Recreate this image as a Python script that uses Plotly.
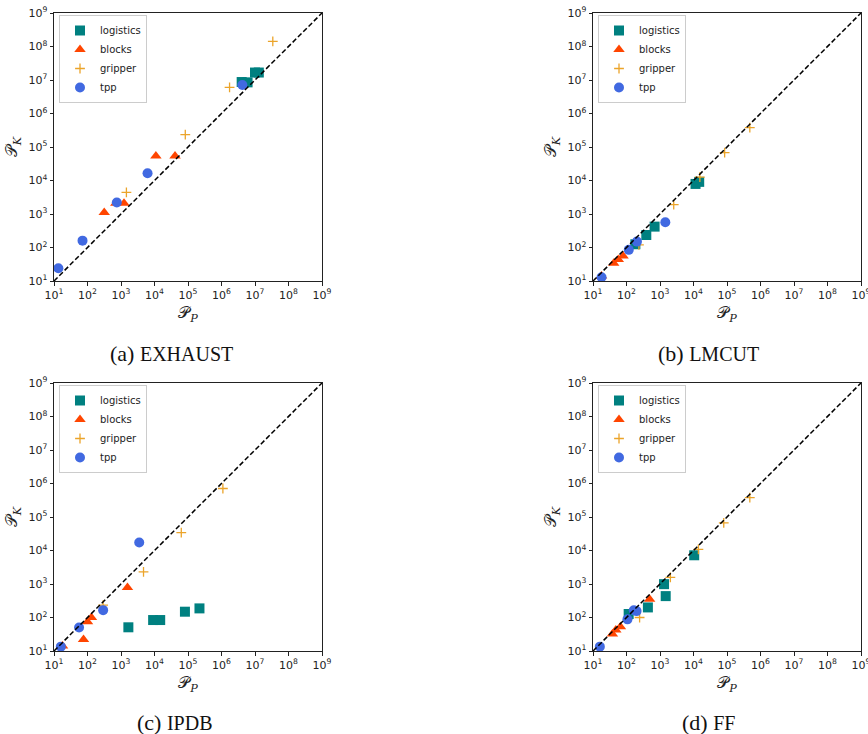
import plotly.graph_objects as go

# ---------------- data ----------------
series_names = ["logistics", "blocks", "gripper", "tpp"]
series_colors = ["#008080", "#FF4500", "#EBA42A", "#4169E1"]
series_symbols = ["square", "triangle-up", "cross-thin", "circle"]

tick_vals = [1e1, 1e2, 1e3, 1e4, 1e5, 1e6, 1e7, 1e8, 1e9]
tick_text = ["10<sup>1</sup>", "10<sup>2</sup>", "10<sup>3</sup>", "10<sup>4</sup>",
             "10<sup>5</sup>", "10<sup>6</sup>", "10<sup>7</sup>", "10<sup>8</sup>",
             "10<sup>9</sup>"]
diag = [1e1, 1e9]

captions = ["(a) ", "(b) ", "(c) ", "(d) "]
caption_names = ["EXHAUST", "LMCUT", "IPDB", "FF"]

# (a) EXHAUST
a_logistics_x = [4.0e6, 6.0e6, 1.0e7, 1.3e7]
a_logistics_y = [8.7e6, 8.5e6, 1.67e7, 1.67e7]
a_blocks_x = [316, 700, 1230, 11000, 41000]
a_blocks_y = [1100, 2100, 2100, 54000, 54000]
a_gripper_x = [1450, 83000, 1.74e6, 3.4e7]
a_gripper_y = [4400, 235000, 6.0e6, 1.42e8]
a_tpp_x = [13.5, 71, 750, 6200, 4.2e6]
a_tpp_y = [24, 160, 2200, 16500, 7.1e6]

# (b) LMCUT
b_logistics_x = [184, 390, 690, 11500, 14800]
b_logistics_y = [125, 236, 420, 7900, 9100]
b_blocks_x = [18, 41.5, 57, 79]
b_blocks_y = [14, 34, 44, 56]
b_gripper_x = [235, 2570, 15500, 85000, 480000]
b_gripper_y = [120, 1900, 12600, 68000, 380000]
b_tpp_x = [18, 117, 205, 1440]
b_tpp_y = [13, 85, 150, 570]

# (c) IPDB
c_logistics_x = [1660, 9100, 14800, 81000, 220000]
c_logistics_y = [51, 84, 84, 149, 187]
c_blocks_x = [18, 76, 100, 131, 1560]
c_blocks_y = [14, 22, 75, 100, 790]
c_gripper_x = [293, 4700, 63000, 1.1e6]
c_gripper_y = [235, 2300, 34000, 710000]
c_tpp_x = [16, 56, 293, 3500]
c_tpp_y = [13.5, 50, 166, 17400]

# (d) FF
d_logistics_x = [116, 435, 1320, 1480, 10500]
d_logistics_y = [127, 200, 990, 435, 7200]
d_blocks_x = [38, 48, 66, 490]
d_blocks_y = [32, 42, 53, 350]
d_gripper_x = [246, 2040, 14000, 80000, 480000]
d_gripper_y = [100, 1570, 10800, 67000, 380000]
d_tpp_x = [16, 107, 165, 200]
d_tpp_y = [13.5, 88, 165, 155]

panel_data = [
    [(a_logistics_x, a_logistics_y), (a_blocks_x, a_blocks_y), (a_gripper_x, a_gripper_y), (a_tpp_x, a_tpp_y)],
    [(b_logistics_x, b_logistics_y), (b_blocks_x, b_blocks_y), (b_gripper_x, b_gripper_y), (b_tpp_x, b_tpp_y)],
    [(c_logistics_x, c_logistics_y), (c_blocks_x, c_blocks_y), (c_gripper_x, c_gripper_y), (c_tpp_x, c_tpp_y)],
    [(d_logistics_x, d_logistics_y), (d_blocks_x, d_blocks_y), (d_gripper_x, d_gripper_y), (d_tpp_x, d_tpp_y)],
]

# ---------------- layout geometry (pixels) ----------------
W, H = 868, 734
panel_px = [  # (left, right, top, bottom)
    (54, 322, 13, 281),
    (593, 861, 13, 281),
    (54, 322, 383, 651),
    (593, 861, 383, 651),
]
caption_px = [(171, 353), (708, 353), (175, 722), (708, 722)]


def fx(p):
    return p / W


def fy(p):
    return 1 - p / H


fig = go.Figure()
layout = dict(
    width=W, height=H,
    margin=dict(l=0, r=0, t=0, b=0, autoexpand=False),
    paper_bgcolor="white", plot_bgcolor="white",
    font=dict(family="DejaVu Sans", size=10, color="#222"),
    annotations=[],
)

marker_sizes = [10, 10, 7, 10]

for i, (L, R, T, B) in enumerate(panel_px):
    xa = "x" if i == 0 else f"x{i+1}"
    ya = "y" if i == 0 else f"y{i+1}"
    lg = "legend" if i == 0 else f"legend{i+1}"
    for j, name in enumerate(series_names):
        xs, ys = panel_data[i][j]
        mk = dict(symbol=series_symbols[j], size=marker_sizes[j], color=series_colors[j])
        if series_symbols[j] == "cross-thin":
            mk["line"] = dict(color=series_colors[j], width=1.3)
        else:
            mk["line"] = dict(width=0)
        fig.add_trace(go.Scatter(
            x=xs, y=ys, mode="markers", name=name, marker=mk,
            xaxis=xa, yaxis=ya, legend=lg, showlegend=True,
        ))
    fig.add_trace(go.Scatter(
        x=diag, y=diag, mode="lines", line=dict(color="black", width=1.5, dash="5px,2.5px"),
        xaxis=xa, yaxis=ya, showlegend=False, hoverinfo="skip",
    ))

    axcommon = dict(
        type="log", range=[1, 9], tickvals=tick_vals, ticktext=tick_text,
        ticks="outside", ticklen=3.5, tickwidth=0.8, tickcolor="#222",
        showline=True, linecolor="#222", linewidth=1, mirror=True,
        showgrid=False, zeroline=False, automargin=False,
        ticklabeloverflow="allow",
        tickfont=dict(family="DejaVu Sans", size=11, color="#222"),
    )
    xkey = "xaxis" if i == 0 else f"xaxis{i+1}"
    ykey = "yaxis" if i == 0 else f"yaxis{i+1}"
    layout[xkey] = dict(axcommon, domain=[fx(L), fx(R)], anchor=ya,
                        title=dict(text="𝒫<sub><i>P</i></sub>", standoff=6,
                                   font=dict(family="DejaVu Serif", size=16, color="#222")))
    layout[ykey] = dict(axcommon, domain=[fy(B), fy(T)], anchor=xa,
                        title=dict(text="𝒫<sub><i>K</i></sub>", standoff=6,
                                   font=dict(family="DejaVu Serif", size=16, color="#222")))
    layout[lg] = dict(
        x=fx(L + 5), y=fy(T + 2), xanchor="left", yanchor="top",
        bgcolor="rgba(255,255,255,0.8)", bordercolor="#cccccc", borderwidth=1,
        font=dict(family="DejaVu Sans", size=10, color="#222"),
    )
    cx, cy = caption_px[i]
    layout["annotations"].append(dict(
        x=fx(cx), y=fy(cy), xref="paper", yref="paper", showarrow=False,
        xanchor="center", yanchor="middle",
        text=captions[i] + f"<span style='font-size:20px'>{caption_names[i]}</span>",
        font=dict(family="Liberation Serif", size=22, color="#111"),
    ))

fig.update_layout(**layout)
fig.write_html("out.html",
               config={"displayModeBar": False},
               post_script="document.body.style.margin='0';document.body.style.overflow='hidden';")
